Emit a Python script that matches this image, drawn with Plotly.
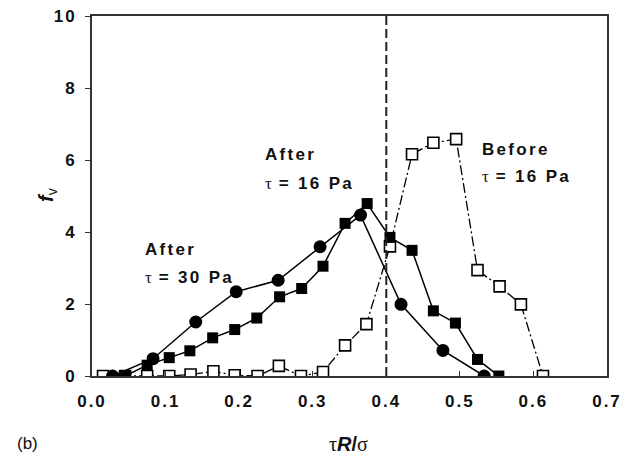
import plotly.graph_objects as go

# data
after30_x = [0.028, 0.083, 0.141, 0.196, 0.253, 0.310, 0.365, 0.420, 0.477, 0.533]
after30_y = [0.0, 0.48, 1.50, 2.34, 2.66, 3.59, 4.47, 1.99, 0.71, 0.0]

after16_x = [0.045, 0.075, 0.105, 0.133, 0.164, 0.194, 0.224, 0.255, 0.285, 0.314,
             0.344, 0.374, 0.405, 0.435, 0.464, 0.494, 0.524, 0.553]
after16_y = [0.0, 0.30, 0.51, 0.70, 1.06, 1.29, 1.61, 2.20, 2.43, 3.05,
             4.24, 4.79, 3.85, 3.49, 1.81, 1.47, 0.46, 0.0]

before16_x = [0.015, 0.045, 0.075, 0.105, 0.134, 0.165, 0.194, 0.225, 0.254, 0.284,
              0.314, 0.344, 0.373, 0.405, 0.435, 0.464, 0.495, 0.524, 0.554, 0.583, 0.613]
before16_y = [0.0, 0.0, 0.0, 0.0, 0.04, 0.13, 0.02, 0.0, 0.28, 0.0,
              0.11, 0.85, 1.44, 3.60, 6.16, 6.48, 6.58, 2.94, 2.49, 1.99, 0.0]

critical_x = 0.4
x_ticks = [0.0, 0.1, 0.2, 0.3, 0.4, 0.5, 0.6, 0.7]
y_ticks = [0, 2, 4, 6, 8, 10]

FONT = "Liberation Sans, Arial, sans-serif"
SERIF = "Liberation Serif, Times New Roman, serif"
INK = "#111111"

W, H = 634, 455
L, R, T, B = 92, 27, 16, 79
PW, PH = W - L - R, H - T - B


def px_to_paper(px, py):
    return (px - L) / PW, (H - B - py) / PH


def spaced(txt, sp=2.3):
    return f'<span style="letter-spacing:{sp}px">{txt}</span>'


fig = go.Figure()

fig.add_trace(go.Scatter(
    x=before16_x, y=before16_y, mode="lines+markers",
    line=dict(color="black", width=1.3, dash="10px,3px,2px,3px"),
    marker=dict(symbol="square", size=11, color="white",
                line=dict(color="black", width=1.6)),
    showlegend=False))

fig.add_trace(go.Scatter(
    x=after16_x, y=after16_y, mode="lines+markers",
    line=dict(color="black", width=1.5),
    marker=dict(symbol="square", size=11, color="black"),
    showlegend=False))

fig.add_trace(go.Scatter(
    x=after30_x, y=after30_y, mode="lines+markers",
    line=dict(color="black", width=1.5),
    marker=dict(symbol="circle", size=13, color="black"),
    showlegend=False))

fig.add_shape(type="line", x0=critical_x, x1=critical_x, y0=0, y1=10,
              xref="x", yref="y",
              line=dict(color="#222222", width=2, dash="9px,4px"))


def tau_line(val):
    return (f'<span style="font-family:{SERIF}">τ</span>'
            + spaced(f'<b> = {val} Pa</b>'))


annots = [
    (0.069, 3.51, spaced("<b>After</b>")),
    (0.069, 2.75, tau_line(30)),
    (0.232, 6.14, spaced("<b>After</b>")),
    (0.232, 5.36, tau_line(16)),
    (0.528, 6.30, spaced("<b>Before</b>")),
    (0.528, 5.53, tau_line(16)),
]
for ax_, ay_, t in annots:
    fig.add_annotation(x=ax_, y=ay_, xref="x", yref="y", text=t, showarrow=False,
                       xanchor="left", yanchor="middle",
                       font=dict(family=FONT, size=17, color=INK))

# panel label
bx, by = px_to_paper(27, 443)
fig.add_annotation(x=bx, y=by, xref="paper", yref="paper", text="(b)",
                   showarrow=False, xanchor="center", yanchor="middle",
                   font=dict(family=FONT, size=17, color=INK))

# x title
tx, ty = px_to_paper(348, 444)
fig.add_annotation(x=tx, y=ty, xref="paper", yref="paper",
                   text=(f'<span style="font-family:{SERIF}">τ</span><b><i>R</i>/</b>'
                         f'<span style="font-family:{SERIF}">σ</span>'),
                   showarrow=False, xanchor="center", yanchor="middle",
                   font=dict(family=FONT, size=20, color=INK))

# y title
yx, yy = px_to_paper(47, 195)
fig.add_annotation(x=yx, y=yy, xref="paper", yref="paper",
                   text="<b><i>f</i></b><sub>v</sub>", textangle=-90,
                   showarrow=False, xanchor="center", yanchor="middle",
                   font=dict(family=FONT, size=20, color=INK))

fig.update_layout(
    width=W, height=H,
    margin=dict(l=L, r=R, t=T, b=B, autoexpand=False),
    paper_bgcolor="white", plot_bgcolor="white",
    font=dict(family=FONT, size=16, color=INK),
)

fig.update_xaxes(
    range=[0, 0.7], tickvals=x_ticks,
    ticktext=[spaced(f"<b>{v:.1f}</b>", 2) for v in x_ticks],
    ticks="inside", ticklen=5, tickwidth=1, tickcolor="#333333",
    showline=True, linecolor="#333333", linewidth=2, mirror=True,
    showgrid=False, zeroline=False, automargin=False, ticklabelstandoff=9,
    tickfont=dict(family=FONT, size=17, color=INK),
)
fig.update_yaxes(
    range=[0, 10], tickvals=y_ticks,
    ticktext=[spaced(f"<b>{v}</b>", 2) for v in y_ticks],
    ticks="outside", ticklen=5, tickwidth=1, tickcolor="#333333",
    showline=True, linecolor="#333333", linewidth=2, mirror=True,
    showgrid=False, zeroline=False, automargin=False, ticklabelstandoff=5,
    tickfont=dict(family=FONT, size=17, color=INK),
)

fig.write_html("out.html", config={"displayModeBar": False},
               post_script="document.body.style.margin='0px';document.body.style.padding='0px';")
